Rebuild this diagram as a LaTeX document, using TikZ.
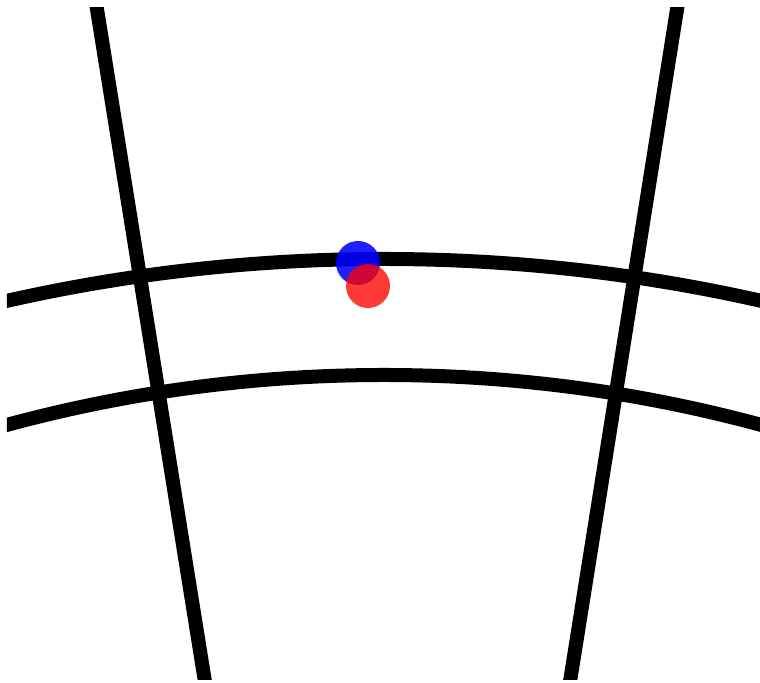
\documentclass[tikz,border=0pt]{standalone}
\usepackage{tikz}

\begin{document}
\begin{tikzpicture}[
    gridline/.style={line width=0.28cm},
    dot/.style={fill opacity=#1}
  ]
  \useasboundingbox (0,0) rectangle (15.2,13.66);
  \begin{scope}
    \clip (0.14,0.06) rectangle (15.2,13.5);
    % radial lines
    \coordinate (l1) at (1.84,14.1);
    \coordinate (l2) at (4.2,-0.6);
    \coordinate (r1) at (13.64,14.1);
    \coordinate (r2) at (11.3,-0.6);
    \draw[gridline] (l1) -- (l2);
    \draw[gridline] (r1) -- (r2);
    % arcs
    \draw[gridline] (7.68,-25.6) circle (34.08);
    \draw[gridline] (7.68,-22.62) circle (28.78);
  \end{scope}
  % points
  \fill[dot=0.88,blue] (7.16,8.4) circle (0.44);
  \fill[dot=0.78,red] (7.36,7.94) circle (0.44);
\end{tikzpicture}
\end{document}
